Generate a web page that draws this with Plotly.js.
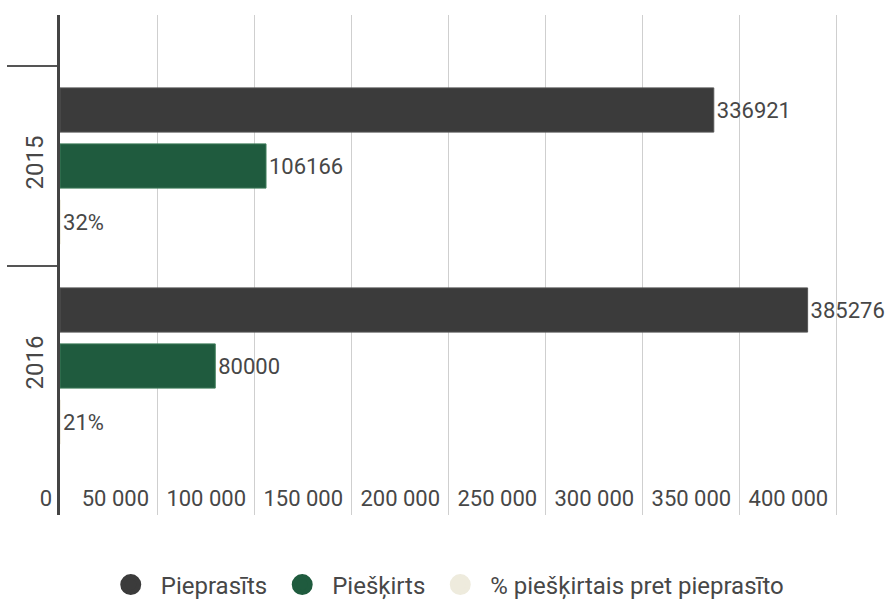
<!DOCTYPE html>
<html>
<head>
<meta charset="utf-8">
<script src="https://cdn.plot.ly/plotly-3.0.1.min.js"></script>
<style>html,body{margin:0;padding:0;background:#fff;}#chart{width:895px;height:610px;}</style>
</head>
<body>
<div id="chart"></div>
<script>
// Data
const years = ['2015', '2016'];
const requested = [336921, 385276];   // Pieprasīts
const granted = [106166, 80000];      // Piešķirts
const percentGranted = [32, 21];      // % piešķirtais pret pieprasīto
const seriesNames = ['Pieprasīts', 'Piešķirts', '% piešķirtais pret pieprasīto'];
const xTicks = [0, 50000, 100000, 150000, 200000, 250000, 300000, 350000, 400000];

const colors = ['#3b3b3b', '#1f5b3e', '#eeebdd'];
const FONT = 'Roboto, "Open Sans", sans-serif';
const TXT = '#474747';

function barTrace(vals, i, tmpl) {
  return {
    type: 'bar', orientation: 'h', name: seriesNames[i],
    x: vals, y: years,
    marker: {color: colors[i], line: {color: i === 1 ? '#3f7d5a' : (i === 0 ? '#555' : colors[i]), width: 1}},
    texttemplate: tmpl, textposition: 'outside', constraintext: 'none',
    textfont: {family: FONT, size: 22, color: TXT},
    cliponaxis: false, showlegend: false, hoverinfo: 'x+name'
  };
}
function legendTrace(i) {
  return {
    type: 'scatter', mode: 'markers', name: seriesNames[i],
    x: [null], y: [null],
    marker: {color: colors[i], size: 30, symbol: 'circle', line: {color: colors[i], width: 8}},
    showlegend: true
  };
}

const data = [
  barTrace(requested, 0, '%{x:d}'),
  barTrace(granted, 1, '%{x:d}'),
  barTrace(percentGranted, 2, '%{x:d}%'),
  legendTrace(0), legendTrace(1), legendTrace(2)
];

const layout = {
  width: 895, height: 610,
  margin: {l: 60, r: 20, t: 15, b: 95, autoexpand: false},
  paper_bgcolor: '#fff', plot_bgcolor: '#fff',
  separators: ', ',
  font: {family: FONT, color: TXT, size: 21},
  barmode: 'group', bargap: 0.16, bargroupgap: 0.21,
  xaxis: {
    range: [0, 420000], tickvals: xTicks, tickformat: ',d', automargin: false,
    showgrid: true, gridcolor: '#cfcfcf', gridwidth: 1,
    zeroline: false, showline: false, ticks: '',
    ticklabelposition: 'outside left', ticklabelstandoff: -32, ticklabelshift: -8,
    tickfont: {family: FONT, size: 22, color: TXT}, fixedrange: true
  },
  yaxis: {
    type: 'category', categoryorder: 'array', categoryarray: years,
    range: [1.745, -0.755], automargin: false,
    tickson: 'boundaries', ticks: 'outside', ticklen: 50, tickwidth: 2, tickcolor: '#555',
    showline: true, linewidth: 3, linecolor: '#444',
    showgrid: false, zeroline: false,
    tickangle: -90, ticklabelstandoff: 4,
    tickfont: {family: FONT, size: 24, color: TXT}, fixedrange: true
  },
  legend: {
    orientation: 'h', x: 0.05, xanchor: 'left', y: -0.14, yanchor: 'middle',
    font: {family: FONT, size: 24, color: TXT}, itemsizing: 'trace', itemwidth: 50
  },
  showlegend: true
};

Plotly.newPlot('chart', data, layout, {displayModeBar: false, staticPlot: true});
</script>
</body>
</html>
